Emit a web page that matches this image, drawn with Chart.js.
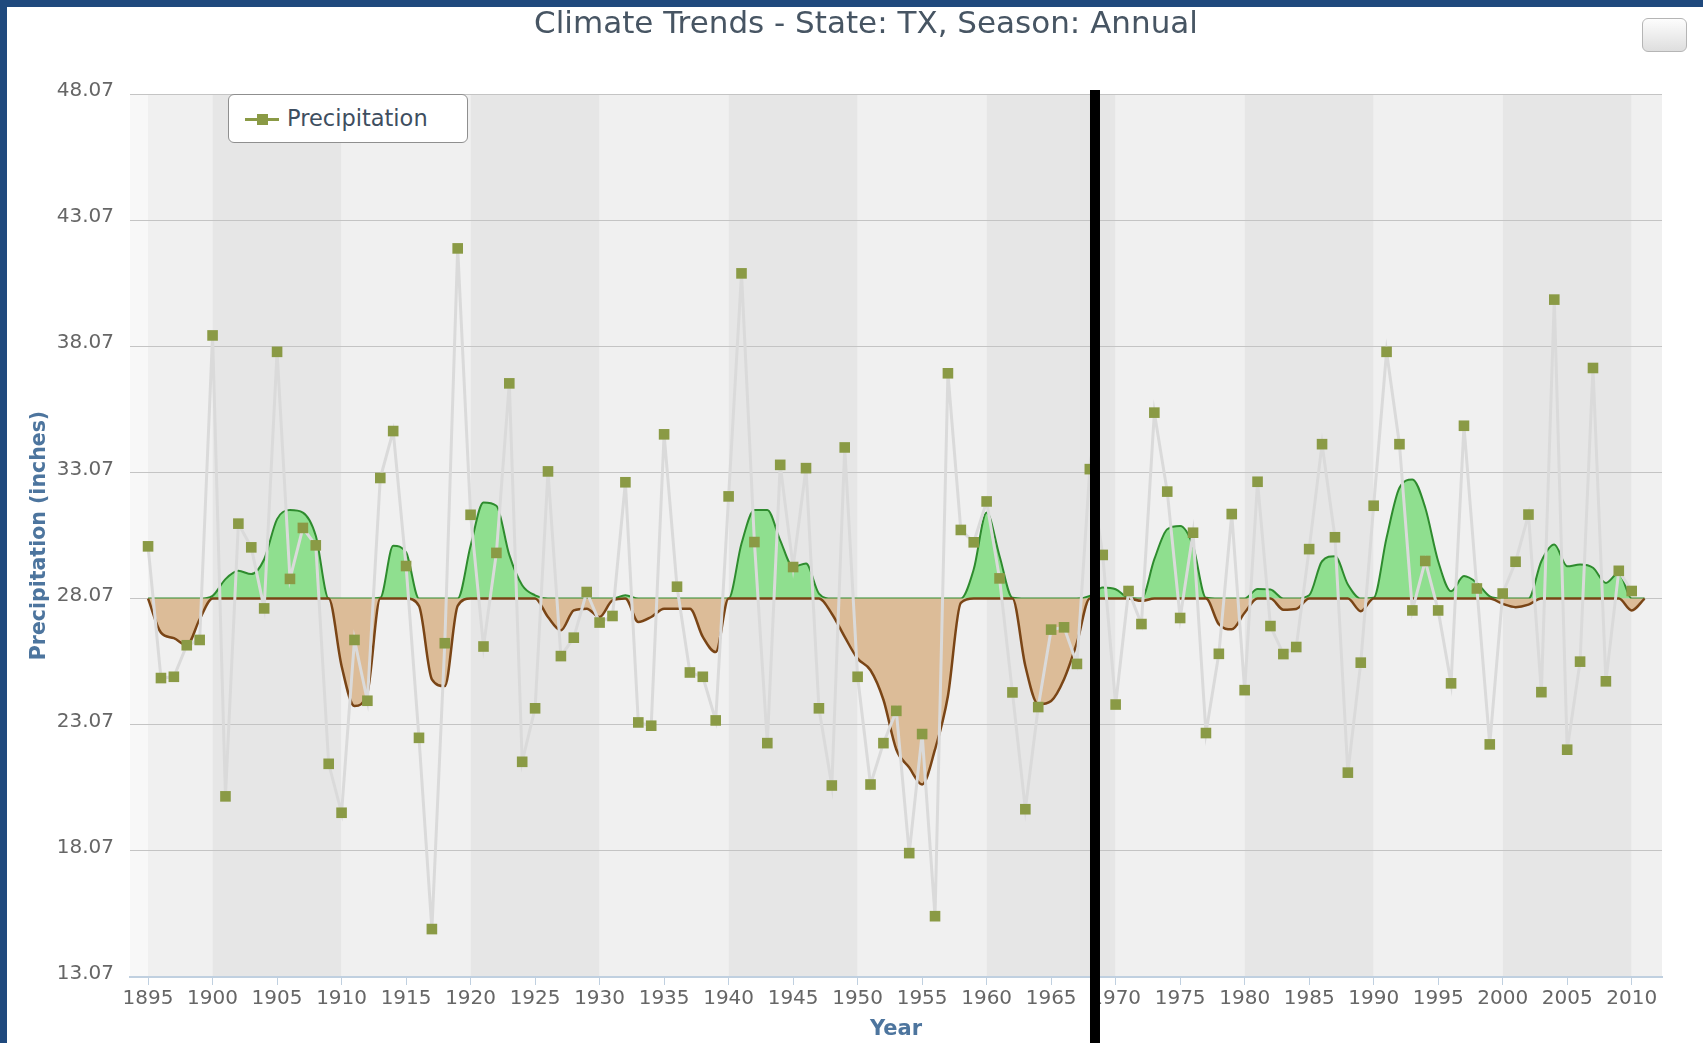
<!DOCTYPE html>
<html><head><meta charset="utf-8">
<script src="https://cdn.jsdelivr.net/npm/chart.js@4.4.1/dist/chart.umd.min.js"></script>
<style>
html,body{margin:0;padding:0;background:#1f497d;width:1703px;height:1043px;overflow:hidden}
#wrap{position:absolute;left:7px;top:7px;width:1696px;height:1036px;background:#fff}
canvas{display:block;position:absolute;left:0;top:0}
#title{position:absolute;left:359px;top:-4px;width:1000px;text-align:center;font:31px "DejaVu Sans";line-height:38px;color:#475563;white-space:nowrap}
#legend{position:absolute;left:221px;top:87px;width:240px;height:49px;box-sizing:border-box;border:1px solid #8f8f8f;border-radius:6px;background:#fff}
#legend .ln{position:absolute;left:16px;top:23px;width:34px;height:3px;background:#8a9a45}
#legend .mk{position:absolute;left:28px;top:19px;width:11px;height:11px;background:#8a9a45}
#legend .tx{position:absolute;left:58px;top:9px;font:22.5px "DejaVu Sans";line-height:28px;color:#3e4e60;white-space:nowrap}
#reset{position:absolute;left:1635px;top:11px;width:45px;height:34px;box-sizing:border-box;border:1px solid #b5b5b5;border-radius:6px;background:linear-gradient(#fdfdfd,#dedede)}
</style></head><body>
<div id="wrap">
<canvas id="c" width="1696" height="1036"></canvas>
<div id="title"></div>
<div id="legend"><div class="ln"></div><div class="mk"></div><div class="tx"></div></div>
<div id="reset"></div>
</div>
<script>
const TITLE = 'Climate Trends - State: TX, Season: Annual';
const SERIES_LABEL = 'Precipitation';
const X_TITLE = 'Year';
const Y_TITLE = 'Precipitation (inches)';

const years = [1895,1896,1897,1898,1899,1900,1901,1902,1903,1904,1905,1906,1907,1908,1909,1910,1911,1912,1913,1914,1915,1916,1917,1918,1919,1920,1921,1922,1923,1924,1925,1926,1927,1928,1929,1930,1931,1932,1933,1934,1935,1936,1937,1938,1939,1940,1941,1942,1943,1944,1945,1946,1947,1948,1949,1950,1951,1952,1953,1954,1955,1956,1957,1958,1959,1960,1961,1962,1963,1964,1965,1966,1967,1968,1969,1970,1971,1972,1973,1974,1975,1976,1977,1978,1979,1980,1981,1982,1983,1984,1985,1986,1987,1988,1989,1990,1991,1992,1993,1994,1995,1996,1997,1998,1999,2000,2001,2002,2003,2004,2005,2006,2007,2008,2009,2010];

const precipitation = [30.14,24.92,24.97,26.22,26.43,38.5,20.23,31.04,30.1,27.68,37.85,28.85,30.87,30.18,21.52,19.58,26.43,24.02,32.85,34.71,29.36,22.55,14.97,26.3,41.95,31.39,26.17,29.88,36.6,21.6,23.72,33.11,25.79,26.52,28.33,27.12,27.38,32.68,23.16,23.03,34.58,28.54,25.14,24.97,23.24,32.12,40.96,30.31,22.34,33.37,29.32,33.24,23.72,20.66,34.06,24.97,20.7,22.34,23.62,17.98,22.7,15.48,37.0,30.79,30.3,31.92,28.87,24.35,19.72,23.77,26.84,26.93,25.48,33.2,29.8,23.87,28.37,27.06,35.44,32.31,27.3,30.68,22.74,25.88,31.42,24.44,32.7,26.98,25.87,26.15,30.03,34.19,30.5,21.17,25.53,31.75,37.85,34.19,27.6,29.56,27.6,24.71,34.92,28.47,22.29,28.27,29.53,31.4,24.36,39.92,22.08,25.57,37.21,24.79,29.17,28.37];

const smoothYears = [1895,1896,1897,1898,1899,1900,1901,1902,1903,1904,1905,1906,1907,1908,1909,1910,1911,1912,1913,1914,1915,1916,1917,1918,1919,1920,1921,1922,1923,1924,1925,1926,1927,1928,1929,1930,1931,1932,1933,1934,1935,1936,1937,1938,1939,1940,1941,1942,1943,1944,1945,1946,1947,1948,1949,1950,1951,1952,1953,1954,1955,1956,1957,1958,1959,1960,1961,1962,1963,1964,1965,1966,1967,1968,1969,1970,1971,1972,1973,1974,1975,1976,1977,1978,1979,1980,1981,1982,1983,1984,1985,1986,1987,1988,1989,1990,1991,1992,1993,1994,1995,1996,1997,1998,1999,2000,2001,2002,2003,2004,2005,2006,2007,2008,2009,2010,2011];

const smoothed = [28.07,26.72,26.5,26.22,27.25,28.18,28.84,29.17,29.04,29.63,31.22,31.58,31.48,30.56,28.07,25.4,23.81,24.34,28.1,30.16,29.9,27.78,24.87,24.6,27.78,30.16,31.88,31.75,29.8,28.6,28.2,27.34,26.81,27.6,27.67,27.34,28.0,28.2,27.14,27.34,27.67,27.67,27.67,26.55,25.95,28.07,30.25,31.58,31.58,30.38,29.33,29.46,28.27,27.47,26.55,25.69,25.23,24.06,22.09,21.37,20.7,22.09,24.21,27.9,29.23,31.48,29.76,28.1,25.4,23.88,24.01,24.87,26.32,28.18,28.51,28.44,28.1,27.98,29.63,30.82,30.95,30.16,28.1,27.05,26.85,27.51,28.45,28.43,27.63,27.66,28.2,29.55,29.75,28.63,27.57,28.1,30.48,32.46,32.79,31.67,29.55,28.36,28.96,28.69,28.16,27.86,27.73,27.83,29.55,30.21,29.35,29.42,29.29,28.69,29.09,27.6,28.07];

const BASELINE = 28.07;
const yTicks = [13.07,18.07,23.07,28.07,33.07,38.07,43.07,48.07];
const xTicks = [1895,1900,1905,1910,1915,1920,1925,1930,1935,1940,1945,1950,1955,1960,1965,1970,1975,1980,1985,1990,1995,2000,2005,2010];
const bandFrom = [1895,1900,1910,1920,1930,1940,1950,1960,1970,1980,1990,2000,2010];
const bandTo   = [1900,1910,1920,1930,1940,1950,1960,1970,1980,1990,2000,2010,2012.35];
const markerYear = 1968.4;

document.getElementById('title').textContent = TITLE;
document.querySelector('#legend .tx').textContent = SERIES_LABEL;

const bandsPlugin = {
  id: 'bands',
  beforeDraw(chart) {
    const {ctx, chartArea: a, scales: {x}} = chart;
    ctx.save();
    ctx.fillStyle = '#f8f8f8';
    ctx.fillRect(a.left, a.top, a.right - a.left, a.bottom - a.top);
    bandFrom.forEach((f, i) => {
      const x0 = x.getPixelForValue(f), x1 = x.getPixelForValue(bandTo[i]);
      ctx.fillStyle = i % 2 === 0 ? '#f0f0f0' : '#e6e6e6';
      ctx.fillRect(x0, a.top, x1 - x0, a.bottom - a.top);
    });
    ctx.restore();
  },
  afterDraw(chart) {
    const {ctx, chartArea: a, scales: {x}} = chart;
    const px = x.getPixelForValue(markerYear);
    ctx.save();
    ctx.strokeStyle = '#000';
    ctx.lineWidth = 10;
    ctx.beginPath();
    ctx.moveTo(px, a.top - 4);
    ctx.lineTo(px, chart.height);
    ctx.stroke();
    ctx.restore();
  }
};

Chart.defaults.font.family = 'DejaVu Sans';

new Chart(document.getElementById('c'), {
  type: 'line',
  data: {
    datasets: [
      {
        label: SERIES_LABEL,
        data: years.map((yr, i) => ({x: yr, y: precipitation[i]})),
        borderColor: '#dadada',
        borderWidth: 3,
        pointStyle: 'rect',
        pointRadius: 7.5,
        pointBackgroundColor: '#8a9a45',
        pointBorderWidth: 0,
        tension: 0,
        fill: false,
        order: 0
      },
      {
        label: 'Above',
        data: smoothYears.map((yr, i) => ({x: yr, y: Math.max(smoothed[i], BASELINE)})),
        borderColor: '#2e8b2e',
        borderWidth: 2,
        backgroundColor: '#8fdf8f',
        fill: {value: BASELINE},
        pointRadius: 0,
        cubicInterpolationMode: 'monotone',
        order: 2
      },
      {
        label: 'Below',
        data: smoothYears.map((yr, i) => ({x: yr, y: Math.min(smoothed[i], BASELINE)})),
        borderColor: '#7a4516',
        borderWidth: 2.5,
        backgroundColor: '#dcbc98',
        fill: {value: BASELINE},
        pointRadius: 0,
        cubicInterpolationMode: 'monotone',
        order: 1
      }
    ]
  },
  options: {
    responsive: false,
    animation: false,
    events: [],
    layout: {padding: {left: 0, right: 41, top: 87, bottom: 1}},
    plugins: {legend: {display: false}, title: {display: false}, tooltip: {enabled: false}},
    scales: {
      x: {
        type: 'linear',
        min: 1893.6,
        max: 2012.35,
        afterBuildTicks(s) { s.ticks = xTicks.map(v => ({value: v})); },
        afterFit(s) { s.height = 65; },
        ticks: {font: {size: 20}, color: '#666', padding: 2, maxRotation: 0, autoSkip: false, callback: v => String(v)},
        grid: {drawOnChartArea: false, drawTicks: true, tickLength: 8, color: '#c0d0e0'},
        border: {color: '#c0d0e0', width: 2},
        title: {display: true, text: X_TITLE, color: '#4d759e', font: {size: 21, weight: 'bold'}, padding: {top: 0, bottom: 0}}
      },
      y: {
        type: 'linear',
        min: 13.07,
        max: 48.07,
        afterBuildTicks(s) { s.ticks = yTicks.map(v => ({value: v})); },
        afterFit(s) { s.width = 123; },
        ticks: {font: {size: 20}, color: '#666', padding: 16, labelOffset: -3, callback: v => Number(v).toFixed(2)},
        grid: {color: '#c4c4c4', lineWidth: 1, drawTicks: false},
        border: {display: false},
        title: {display: true, text: Y_TITLE, color: '#4d759e', font: {size: 20.5, weight: 'bold'}, padding: {top: 20, bottom: 0}}
      }
    }
  },
  plugins: [bandsPlugin]
});
</script>
</body></html>
